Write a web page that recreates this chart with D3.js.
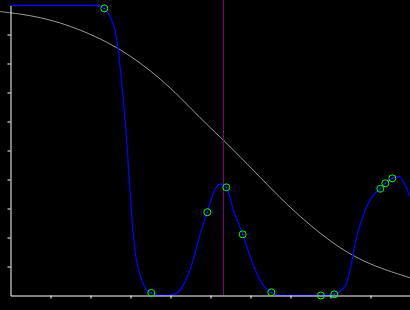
<!DOCTYPE html>
<html>
<head>
<meta charset="utf-8">
<script src="https://cdn.jsdelivr.net/npm/d3@7"></script>
<style>
  html, body { margin: 0; padding: 0; background: #000; }
  svg { display: block; }
</style>
</head>
<body>
<div id="chart"></div>
<script>
// fitted curve (blue)
const curveX = [0, 2.11, 2.24, 2.345, 2.445, 2.53, 2.61, 2.695, 2.76, 2.82, 2.875, 2.92, 2.96, 3.005, 3.05, 3.11, 3.24, 3.405, 3.52, 3.64, 3.79,
    4.06, 4.24, 4.36, 4.49, 4.655, 4.79, 4.92, 5.07, 5.16, 5.24, 5.32, 5.395, 5.49, 5.57, 5.69, 5.805, 5.99, 6.11, 6.24, 6.36, 6.52, 6.64, 6.79,
    7.76, 8.095, 8.19, 8.32, 8.405, 8.49, 8.57, 8.655, 8.78, 8.945, 9.11, 9.245, 9.37, 9.545, 9.655, 9.74, 9.82, 9.89, 9.99];
const curveY = [1.0, 1.0, 0.997, 0.99, 0.974, 0.95, 0.916, 0.847, 0.76, 0.674, 0.588, 0.502, 0.416, 0.329, 0.243, 0.157, 0.071, 0.019, 0.009, 0.003, 0,
    0.003, 0.019, 0.047, 0.088, 0.168, 0.233, 0.287, 0.352, 0.377, 0.384, 0.384, 0.373, 0.336, 0.295, 0.253, 0.211, 0.134, 0.091, 0.053, 0.028, 0.011, 0.003, 0,
    0, 0.004, 0.009, 0.025, 0.042, 0.088, 0.146, 0.203, 0.26, 0.318, 0.352, 0.368, 0.387, 0.404, 0.41, 0.409, 0.392, 0.374, 0.341];

// sampled points (green circles)
const pointX = [2.345, 3.52, 4.92, 5.395, 5.805, 6.52, 7.76, 8.095, 9.245, 9.37, 9.545];
const pointY = [0.99, 0.009, 0.287, 0.373, 0.211, 0.011, 0.0, 0.004, 0.368, 0.387, 0.404];

// reference curve (gray)
const refX = [-0.26, 0.24, 0.74, 1.24, 1.74, 2.24, 2.74, 3.24, 3.74, 4.24, 4.74, 5.24, 5.74, 6.24, 6.74, 7.24, 7.74, 8.24, 8.74, 9.24, 9.99];
const refY = [0.979, 0.971, 0.959, 0.941, 0.916, 0.886, 0.849, 0.803, 0.748, 0.684, 0.612, 0.547, 0.479, 0.408, 0.337, 0.272, 0.214, 0.163, 0.124, 0.094, 0.061];

// vertical marker
const markerX = 5.325;

const xTicks = [1, 2, 3, 4, 5, 6, 7, 8, 9];
const yTicks = [0.1, 0.2, 0.3, 0.4, 0.5, 0.6, 0.7, 0.8, 0.9];

const width = 410, height = 310;
const svg = d3.select('#chart')
    .append('svg')
    .attr('width', width)
    .attr('height', height)
    .style('background', '#000');

const x = d3.scaleLinear().domain([0, 10]).range([10.5, 410.5]);
const y = d3.scaleLinear().domain([0, 1]).range([295.5, 5.5]);

// gray reference curve
const refData = refX.map((v, i) => ({x: v, y: refY[i]}));
svg.append('path')
    .datum(refData)
    .attr('fill', 'none')
    .attr('stroke', '#999')
    .attr('stroke-width', 1)
    .attr('d', d3.line().x(d => x(d.x)).y(d => y(d.y)).curve(d3.curveBasis));

// vertical marker line
svg.append('line')
    .attr('x1', x(markerX)).attr('x2', x(markerX))
    .attr('y1', 0).attr('y2', y(0))
    .attr('stroke', '#800080')
    .attr('stroke-width', 1);

// blue fitted curve
const curveData = curveX.map((v, i) => ({x: v, y: curveY[i]}));
svg.append('path')
    .datum(curveData)
    .attr('fill', 'none')
    .attr('stroke', '#0000ff')
    .attr('stroke-width', 1.3)
    .attr('d', d3.line().x(d => x(d.x)).y(d => y(d.y)).curve(d3.curveMonotoneX));

// axes
const xAxis = svg.append('g')
    .attr('transform', `translate(0,${y(0)})`)
    .call(d3.axisBottom(x).tickValues(xTicks).tickSize(3).tickSizeOuter(0).tickFormat(''));
const yAxis = svg.append('g')
    .attr('transform', `translate(${x(0)},0)`)
    .call(d3.axisLeft(y).tickValues(yTicks).tickSize(3).tickSizeOuter(0).tickFormat(''));
[xAxis, yAxis].forEach(g => {
    g.select('.domain').attr('stroke', '#fff');
    g.selectAll('.tick line').attr('stroke', '#fff');
});

// green sample markers
const pts = pointX.map((v, i) => ({x: v, y: pointY[i]}));
const marks = svg.selectAll('g.pt')
    .data(pts)
    .enter()
    .append('g')
    .attr('class', 'pt')
    .attr('transform', d => `translate(${x(d.x)},${y(d.y)})`);
marks.append('circle')
    .attr('r', 3.5)
    .attr('fill', 'none')
    .attr('stroke', '#00ff00')
    .attr('stroke-width', 1);
marks.append('circle')
    .attr('r', 0.6)
    .attr('fill', '#00aa00');
</script>
</body>
</html>
